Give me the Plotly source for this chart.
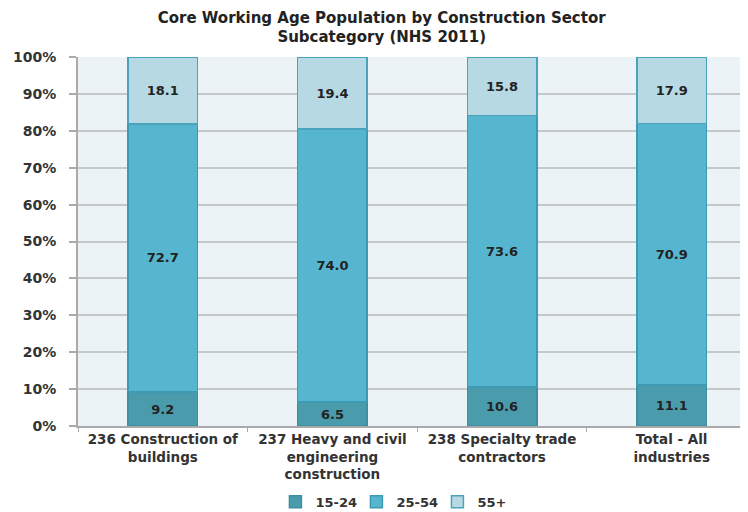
import plotly.graph_objects as go

categories = ["236 Construction of<br>buildings",
              "237 Heavy and civil<br>engineering<br>construction",
              "238 Specialty trade<br>contractors",
              "Total - All<br>industries"]
series_names = ["15-24", "25-54", "55+"]
v_15_24 = [9.2, 6.5, 10.6, 11.1]
v_25_54 = [72.7, 74.0, 73.6, 70.9]
v_55p = [18.1, 19.4, 15.8, 17.9]
y_ticks = [0, 10, 20, 30, 40, 50, 60, 70, 80, 90, 100]
y_tick_labels = [f"{t}%" for t in y_ticks]

colors = ["#4A9CAD", "#56B6D0", "#B6D9E4"]
lines = ["#3D8FA1", "#3E9AB3", "#4AA3BA"]
FONT = "DejaVu Sans"

fig = go.Figure()
for name, vals, c, lc in zip(series_names, [v_15_24, v_25_54, v_55p], colors, lines):
    fig.add_trace(go.Bar(
        x=categories, y=vals, name=name,
        marker=dict(color=c, line=dict(color=lc, width=1.5)),
        text=[f"{v:.1f}" for v in vals], textposition="inside",
        insidetextanchor="middle",
        textfont=dict(family=FONT, size=13, color="#222222", weight="bold"),
    ))

fig.update_layout(
    barmode="stack",
    bargap=0.59,
    width=740, height=504,
    paper_bgcolor="white",
    plot_bgcolor="#ECF3F7",
    margin=dict(l=70, r=0, t=49, b=86, autoexpand=False),
    title=dict(text="Core Working Age Population by Construction Sector<br>Subcategory (NHS 2011)",
               x=0.505, xanchor="center", yref="container", y=0.971, yanchor="top",
               font=dict(family=FONT, size=15, color="#222222", weight="bold")),
    font=dict(family=FONT, color="#333333"),
    showlegend=True,
    legend=dict(orientation="h", x=0.476, xanchor="center", yref="container", y=0.02, yanchor="middle",
                font=dict(family=FONT, size=13, color="#333333", weight="bold"),
                traceorder="normal", entrywidth=36, entrywidthmode="pixels", itemwidth=30),
    yaxis=dict(range=[0, 100], tickvals=y_ticks, ticktext=y_tick_labels,
               showgrid=True, gridcolor="#C4C8CA", gridwidth=2,
               ticks="outside", ticklen=7, tickcolor="#AAAAAA", tickwidth=2,
               ticklabelstandoff=10,
               showline=True, linecolor="#AAAAAA", linewidth=2,
               tickfont=dict(family=FONT, size=14, color="#333333", weight="bold"),
               zeroline=False, automargin=False),
    xaxis=dict(range=[-0.5, 3.45],
               showline=True, linecolor="#AAAAAA", linewidth=2,
               ticks="outside", tickson="boundaries", ticklen=4, tickcolor="#AAAAAA",
               tickfont=dict(family=FONT, size=13.5, color="#333333", weight="bold"),
               tickangle=0, automargin=False),
)

fig.write_html("out.html")
